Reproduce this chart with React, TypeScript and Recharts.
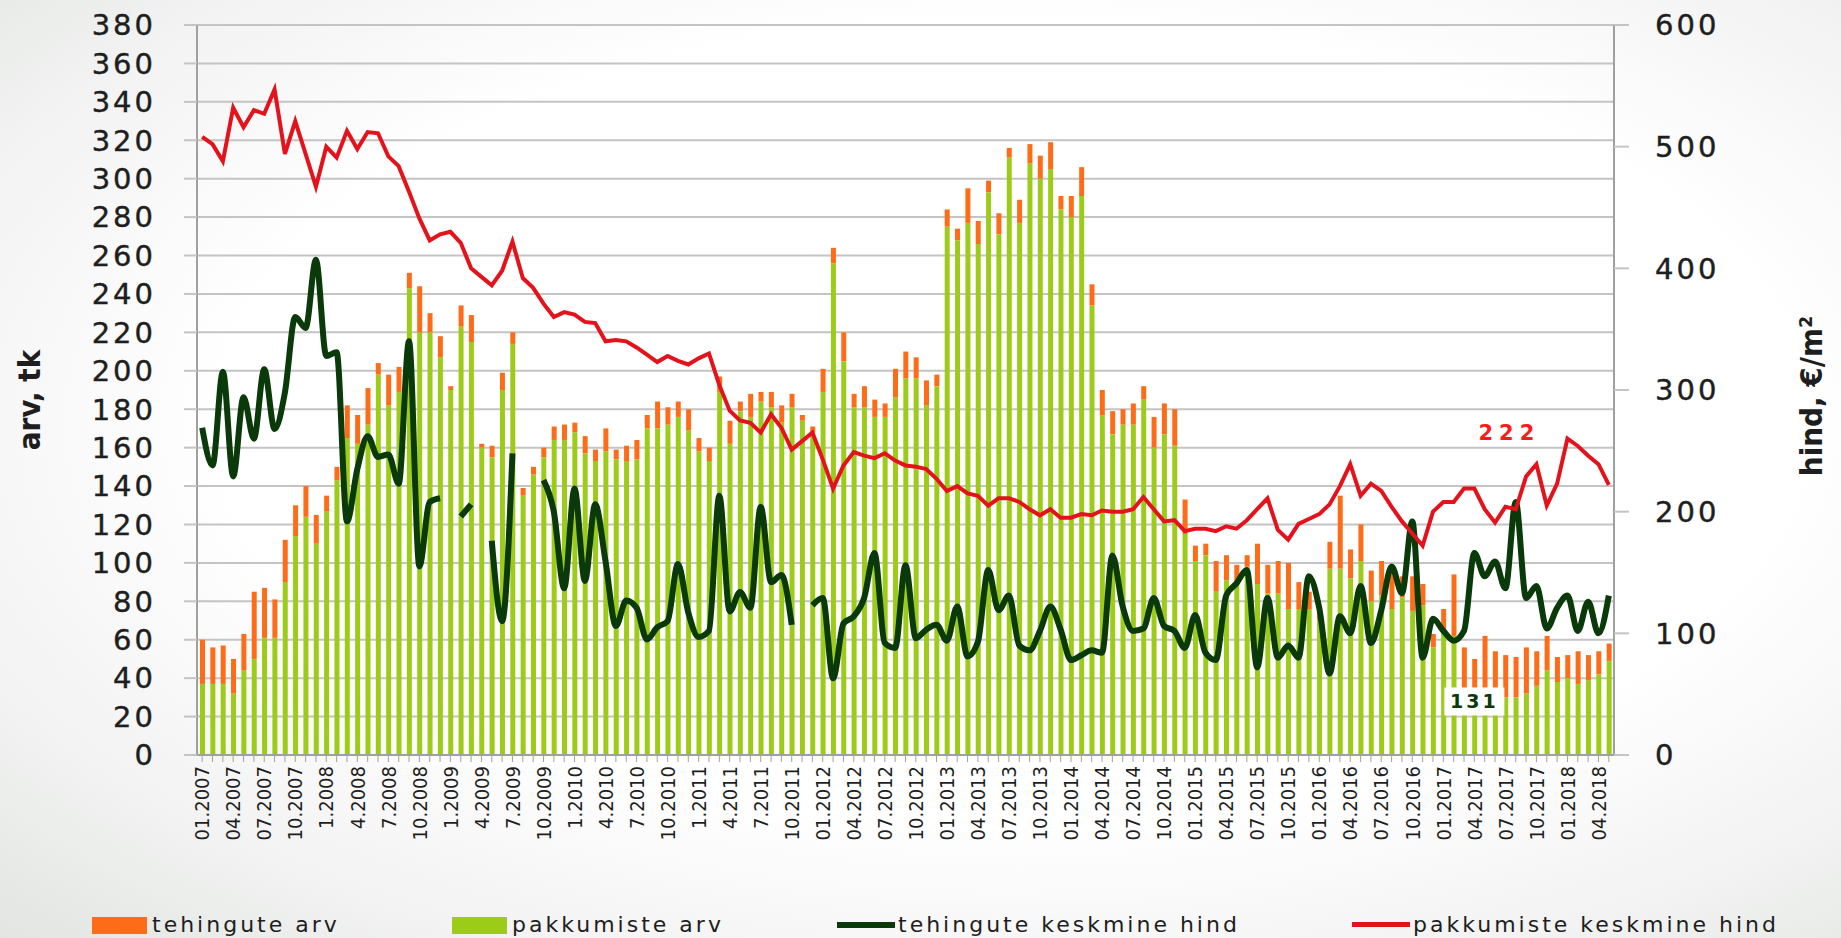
import React from "react";
import {
  ComposedChart,
  Bar,
  Line,
  XAxis,
  YAxis,
  CartesianGrid,
  ReferenceDot,
} from "recharts";

// kuud 01.2007 ... 05.2018 (2008-2011 ilma eesnullita, nagu originaalis)
const MONTHS: string[] = Array.from({ length: 137 }, (_, i) => {
  const y = 2007 + Math.floor(i / 12);
  const m = (i % 12) + 1;
  const mm = y >= 2008 && y <= 2011 ? String(m) : String(m).padStart(2, "0");
  return `${mm}.${y}`;
});

// pakkumiste arv (roheline, alumine osa)
const PAKKUMISTE_ARV = [
  37, 37, 37, 32, 44, 50, 61, 61, 90, 114, 124, 110, 127, 143, 165, 162, 172, 198, 182, 189,
  243, 220, 220, 207, 190, 223, 215, 160, 155, 190, 214, 135, 146, 155, 164, 164, 168, 157, 153, 158,
  154, 153, 154, 170, 170, 172, 176, 169, 158, 153, 189, 162, 179, 176, 184, 181, 173, 181, 174, 168,
  189, 256, 205, 181, 181, 176, 176, 186, 196, 196, 182, 192, 275, 268, 277, 266, 293, 271, 311, 277,
  308, 300, 305, 284, 280, 291, 234, 177, 167, 172, 172, 185, 160, 167, 161, 115, 101, 104, 85, 91,
  89, 98, 89, 84, 84, 76, 76, 76, 70, 97, 97, 92, 101, 80, 83, 76, 82, 75, 78, 56,
  65, 62, 32, 32, 32, 32, 30, 30, 32, 36, 44, 38, 40, 37, 39, 42, 49,
];

// tehingute arv (oranž, virnas peal)
const TEHINGUTE_ARV = [
  23, 19, 20, 18, 19, 35, 26, 20, 22, 16, 16, 15, 8, 7, 17, 15, 19, 6, 16, 13,
  8, 24, 10, 11, 2, 11, 14, 2, 6, 9, 6, 4, 4, 5, 7, 8, 5, 9, 6, 12,
  5, 8, 10, 7, 14, 9, 8, 11, 7, 7, 8, 12, 5, 12, 5, 8, 9, 7, 3, 3,
  12, 8, 15, 7, 11, 9, 7, 15, 14, 11, 13, 6, 9, 6, 18, 12, 6, 11, 5, 12,
  10, 12, 14, 7, 11, 15, 11, 13, 12, 8, 11, 7, 16, 16, 19, 18, 8, 6, 16, 13,
  10, 6, 21, 15, 17, 24, 14, 9, 5, 14, 38, 15, 19, 16, 18, 21, 11, 18, 11, 7,
  11, 32, 24, 18, 30, 22, 22, 21, 24, 18, 18, 13, 12, 17, 13, 12, 9,
];

// tehingute keskmine hind, €/m2 (null = andmed puuduvad)
const TEHINGUTE_HIND: (number | null)[] = [
  269, 238, 315, 229, 294, 260, 317, 268, 298, 360, 351, 407, 328, 331, 192, 235, 262, 245, 247, 223,
  340, 155, 208, 211, null, 196, 206, null, 176, 110, 248, null, null, 226, 200, 137, 219, 143, 206, 159,
  106, 127, 121, 95, 105, 110, 157, 117, 97, 102, 213, 118, 134, 121, 204, 142, 148, 107, null, 123,
  129, 63, 108, 114, 129, 166, 92, 88, 156, 96, 103, 107, 94, 122, 81, 93, 152, 119, 131, 90,
  86, 102, 122, 103, 78, 82, 86, 84, 164, 122, 102, 104, 129, 106, 102, 88, 115, 84, 78, 131,
  141, 152, 72, 129, 80, 90, 80, 147, 121, 67, 114, 100, 139, 92, 119, 155, 133, 192, 80, 112,
  102, 94, 102, 166, 147, 159, 137, 208, 129, 139, 104, 121, 131, 102, 126, 100, 131,
];

// pakkumiste keskmine hind, €/m2
const PAKKUMISTE_HIND = [
  508, 502, 488, 532, 516, 530, 527, 547, 494, 521, 494, 467, 500, 491, 513, 498, 512, 511, 492, 484,
  463, 441, 423, 428, 430, 421, 400, 393, 386, 398, 422, 392, 384, 371, 360, 364, 362, 356, 355, 340,
  341, 340, 335, 329, 323, 328, 324, 321, 326, 330, 304, 283, 275, 273, 265, 280, 269, 251, 258, 265,
  243, 219, 238, 249, 246, 244, 248, 242, 238, 237, 235, 227, 217, 221, 215, 213, 205, 211, 211, 208,
  202, 197, 202, 195, 195, 198, 197, 201, 200, 200, 202, 212, 202, 192, 193, 184, 186, 186, 184, 188,
  186, 193, 202, 211, 185, 177, 190, 194, 198, 206, 221, 239, 213, 223, 217, 204, 192, 182, 172, 200,
  208, 208, 219, 219, 202, 191, 204, 202, 229, 239, 205, 223, 260, 254, 246, 239, 222,
];

const LEFT_TICKS = Array.from({ length: 20 }, (_, i) => i * 20);
const RIGHT_TICKS = [0, 100, 200, 300, 400, 500, 600];

const data = MONTHS.map((month, i) => ({
  month,
  pakkumiste: PAKKUMISTE_ARV[i],
  tehingute: TEHINGUTE_ARV[i],
  tehHind: TEHINGUTE_HIND[i],
  pakHind: PAKKUMISTE_HIND[i],
}));

const ORANGE = "#ff6c17";
const LIME = "#9ccc18";
const DARK = "#0a3a0a";
const RED = "#e4121b";
const GRID = "#c4c4c4";
const AXIS = "#a0a0a0";
const NUM_FONT = "'DejaVu Sans', Verdana, sans-serif";
const NARROW = "'Liberation Sans Narrow', 'Arial Narrow', 'DejaVu Sans Condensed', sans-serif";

const numTick = {
  fontFamily: NUM_FONT,
  fontSize: 29,
  fill: "#1e1e1e",
  stroke: "#1e1e1e",
  strokeWidth: 0.4,
  letterSpacing: 3,
};

// kuu silt ainult iga 3. kuu juures, tikk iga kuu juures
const MonthTick = (props: any) => {
  const { x, y, index, payload } = props;
  if (index % 3 !== 0) return <g />;
  return (
    <g transform={`translate(${x},${y})`}>
      <text
        transform="rotate(-90)"
        textAnchor="end"
        dy="0.36em"
        fontFamily={NARROW}
        fontSize={20}
        fill="#1e1e1e"
      >
        {payload.value}
      </text>
    </g>
  );
};

const legendItem: React.CSSProperties = {
  position: "absolute",
  top: 912,
  fontFamily: NUM_FONT,
  fontSize: 22,
  letterSpacing: 3,
  color: "#1e1e1e",
  lineHeight: "26px",
  whiteSpace: "nowrap",
};

export default function App() {
  return (
    <div
      style={{
        position: "absolute",
        left: 0,
        top: 0,
        width: 1841,
        height: 938,
        overflow: "hidden",
        background:
          "radial-gradient(ellipse at 55% 45%, #ffffff 55%, #f1f2f1 80%, #e2e5e2 100%)",
      }}
    >
      <ComposedChart
        width={1841}
        height={938}
        data={data}
        margin={{ top: 25, right: 77, left: 47, bottom: 83 }}
        barCategoryGap={0}
      >
        <CartesianGrid yAxisId="left" vertical={false} stroke={GRID} strokeWidth={2} />
        <XAxis
          dataKey="month"
          interval={0}
          tick={<MonthTick />}
          tickLine={{ stroke: AXIS, strokeWidth: 1 }}
          tickSize={7}
          tickMargin={4}
          axisLine={{ stroke: AXIS, strokeWidth: 2 }}
          height={100}
        />
        <YAxis
          yAxisId="left"
          domain={[0, 380]}
          ticks={LEFT_TICKS}
          interval={0}
          width={150}
          tick={numTick}
          tickSize={13}
          tickMargin={28}
          tickLine={{ stroke: GRID, strokeWidth: 2 }}
          axisLine={{ stroke: AXIS, strokeWidth: 2 }}
          label={{
            content: () => (
              <text
                transform="translate(40,400) rotate(-90)"
                textAnchor="middle"
                fontFamily={NARROW}
                fontWeight="bold"
                fontSize={31}
                fill="#1e1e1e"
              >
                arv, tk
              </text>
            ),
          }}
        />
        <YAxis
          yAxisId="right"
          orientation="right"
          domain={[0, 600]}
          ticks={RIGHT_TICKS}
          interval={0}
          width={150}
          tick={{ ...numTick, textAnchor: "start" }}
          tickSize={15}
          tickMargin={26}
          tickLine={{ stroke: GRID, strokeWidth: 2 }}
          axisLine={{ stroke: AXIS, strokeWidth: 2 }}
          label={{
            content: () => (
              <text
                transform="translate(1822,396) rotate(-90)"
                textAnchor="middle"
                fontFamily={NARROW}
                fontWeight="bold"
                fontSize={31}
                fill="#1e1e1e"
              >
                hind, €/m²
              </text>
            ),
          }}
        />
        <Bar
          yAxisId="left"
          dataKey="pakkumiste"
          stackId="arv"
          fill={LIME}
          barSize={5}
          isAnimationActive={false}
        />
        <Bar
          yAxisId="left"
          dataKey="tehingute"
          stackId="arv"
          fill={ORANGE}
          barSize={5}
          isAnimationActive={false}
        />
        <Line
          yAxisId="right"
          type="monotone"
          dataKey="tehHind"
          stroke={DARK}
          strokeWidth={6}
          dot={false}
          activeDot={false}
          connectNulls={false}
          isAnimationActive={false}
        />
        <Line
          yAxisId="right"
          type="linear"
          dataKey="pakHind"
          stroke={RED}
          strokeWidth={4}
          dot={false}
          activeDot={false}
          isAnimationActive={false}
        />
        {/* viimaste hindade sildid */}
        <ReferenceDot
          yAxisId="right"
          x={MONTHS[126]}
          y={265}
          ifOverflow="visible"
          shape={(p: any) => (
            <text
              x={p.cx + 4}
              y={p.cy}
              textAnchor="middle"
              dy="0.35em"
              fontFamily={NUM_FONT}
              fontWeight="bold"
              fontSize={21}
              letterSpacing={6}
              fill="#ff1a1a"
            >
              222
            </text>
          )}
        />
        <ReferenceDot
          yAxisId="right"
          x={MONTHS[123]}
          y={44}
          ifOverflow="visible"
          shape={(p: any) => (
            <g>
              <rect x={p.cx - 30} y={p.cy - 14} width={60} height={28} fill="#ffffff" />
              <text
                x={p.cx}
                y={p.cy}
                textAnchor="middle"
                dy="0.35em"
                fontFamily={NUM_FONT}
                fontWeight="bold"
                fontSize={19}
                letterSpacing={3}
                fill={DARK}
              >
                131
              </text>
            </g>
          )}
        />
      </ComposedChart>

      {/* legend */}
      <div style={{ position: "absolute", left: 92, top: 917, width: 55, height: 17, background: ORANGE }} />
      <span style={{ ...legendItem, left: 152 }}>tehingute arv</span>
      <div style={{ position: "absolute", left: 452, top: 917, width: 55, height: 17, background: LIME }} />
      <span style={{ ...legendItem, left: 512 }}>pakkumiste arv</span>
      <div style={{ position: "absolute", left: 837, top: 922, width: 58, height: 6, background: DARK }} />
      <span style={{ ...legendItem, left: 898 }}>tehingute keskmine hind</span>
      <div style={{ position: "absolute", left: 1352, top: 922, width: 58, height: 5, background: RED }} />
      <span style={{ ...legendItem, left: 1413 }}>pakkumiste keskmine hind</span>
    </div>
  );
}
